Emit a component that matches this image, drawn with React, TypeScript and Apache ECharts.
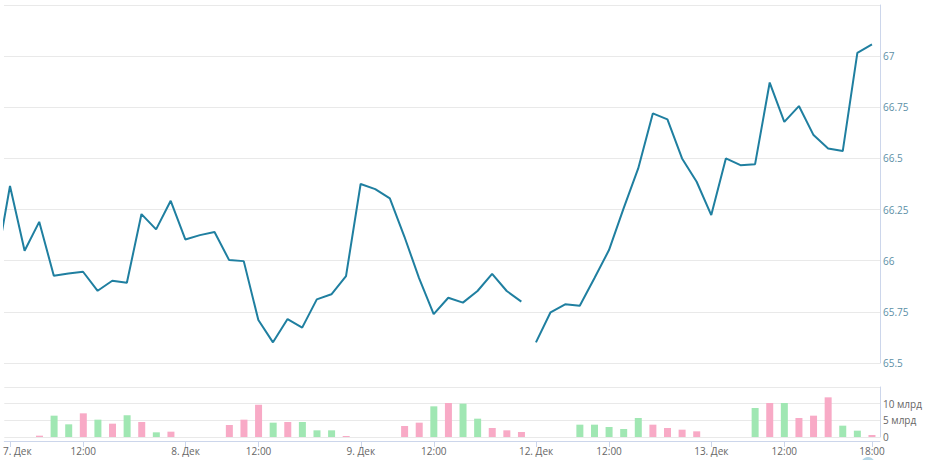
import React, { useEffect, useRef } from 'react';
import * as echarts from 'echarts';

// Hourly slots 07:00–18:00 for trading days 7, 8, 9, 12, 13 Дек (index 0..59)
const tickPositions = [0, 5, 12, 17, 24, 29, 36, 41, 48, 53, 59];
const tickLabels = ['7. Дек', '12:00', '8. Дек', '12:00', '9. Дек', '12:00', '12. Дек', '12:00', '13. Дек', '12:00', '18:00'];

// Last price before the visible window (6 Дек 18:00), partly clipped at the left edge
const previousPrice = 65.96;

// Close prices, one per hourly slot
const prices = [
  66.365, 66.049, 66.19, 65.927, 65.938, 65.946, 65.853, 65.902, 65.892, 66.228, 66.153, 66.293,
  66.104, 66.125, 66.14, 66.003, 65.998, 65.71, 65.601, 65.715, 65.673, 65.811, 65.836, 65.925,
  66.375, 66.35, 66.305, 66.117, 65.915, 65.739, 65.819, 65.795, 65.852, 65.936, 65.852, 65.8,
  65.601, 65.748, 65.787, 65.78, 65.914, 66.052, 66.256, 66.451, 66.72, 66.691, 66.5, 66.386,
  66.223, 66.5, 66.467, 66.472, 66.871, 66.679, 66.756, 66.614, 66.549, 66.536, 67.016, 67.057,
];
// The line is broken between 9 Дек 18:00 (index 35) and 12 Дек 07:00 (index 36)
const gapAfterIndex = 35;

// Volumes in млрд, one per hourly slot
const volumes = [
  0, 0, 0.4, 6.4, 3.8, 7.1, 5.2, 4.0, 6.5, 4.5, 1.4, 1.6,
  0, 0, 0, 3.6, 5.2, 9.7, 4.3, 4.5, 4.5, 2.0, 2.0, 0.3,
  0, 0, 0, 3.3, 4.3, 9.2, 10.2, 10.0, 5.5, 2.7, 2.0, 1.5,
  0, 0, 0, 3.7, 3.7, 3.0, 2.4, 5.7, 3.7, 2.7, 2.2, 1.7,
  0, 0, 0, 8.7, 10.2, 10.2, 5.7, 6.4, 11.9, 3.4, 1.9, 0.6,
];
// u = green bar, d = pink bar
const volumeDirections = [
  'd', 'd', 'd', 'u', 'u', 'd', 'u', 'd', 'u', 'd', 'u', 'd',
  'd', 'd', 'd', 'd', 'd', 'd', 'u', 'd', 'u', 'u', 'u', 'd',
  'd', 'd', 'd', 'd', 'd', 'u', 'd', 'u', 'u', 'd', 'd', 'd',
  'u', 'u', 'u', 'u', 'u', 'u', 'u', 'u', 'd', 'd', 'd', 'd',
  'u', 'u', 'u', 'u', 'd', 'u', 'd', 'd', 'd', 'u', 'u', 'd',
];

const priceTicks = { min: 65.5, max: 67.25, interval: 0.25 };
const volumeTicks = { min: 0, max: 15, interval: 5 };

const LINE_COLOR = '#1f7fa0';
const UP_COLOR = '#a0e7b3';
const DOWN_COLOR = '#f8aac6';
const AXIS_COLOR = '#ccd6eb';
const GRID_COLOR = '#e9e9e9';
const FONT = '"Open Sans", "DejaVu Sans", sans-serif';

function buildOption() {
  const seg1: [number, number][] = [[-1, previousPrice]];
  const seg2: [number, number][] = [];
  prices.forEach((p, i) => {
    if (i <= gapAfterIndex) seg1.push([i, p]);
    else seg2.push([i, p]);
  });
  const bars = volumes.map((v, i) => ({
    value: [i, v],
    itemStyle: { color: volumeDirections[i] === 'u' ? UP_COLOR : DOWN_COLOR },
  }));
  const xMin = -0.41;
  const xMax = 59.55;

  return {
    animation: false,
    backgroundColor: '#ffffff',
    textStyle: { fontFamily: FONT },
    grid: [
      { left: 4, right: 50, top: 5, height: 358 },
      { left: 4, right: 50, top: 387, height: 50 },
    ],
    xAxis: [
      {
        type: 'value',
        gridIndex: 0,
        min: xMin,
        max: xMax,
        axisLine: { show: false, onZero: false },
        axisTick: { show: false },
        axisLabel: { show: false },
        splitLine: { show: false },
      },
      {
        type: 'value',
        gridIndex: 1,
        min: xMin,
        max: xMax,
        offset: 4,
        axisLine: { show: true, onZero: false, lineStyle: { color: AXIS_COLOR, width: 1 } },
        axisTick: { show: true, customValues: tickPositions, length: 6, lineStyle: { color: AXIS_COLOR } },
        axisLabel: {
          show: true,
          customValues: tickPositions,
          margin: 5,
          color: '#666666',
          fontSize: 10,
          fontFamily: FONT,
          formatter: (v: number) => {
            const k = tickPositions.indexOf(Math.round(v));
            if (k < 0) return '';
            return k === 0 ? '{first|' + tickLabels[k] + '}' : tickLabels[k];
          },
          rich: {
            first: { padding: [0, 0, 0, 14], color: '#666666', fontSize: 10, fontFamily: FONT },
          },
        },
        splitLine: { show: false },
      },
    ],
    yAxis: [
      {
        type: 'value',
        gridIndex: 0,
        position: 'right',
        min: priceTicks.min,
        max: priceTicks.max,
        interval: priceTicks.interval,
        axisLine: { show: true, onZero: false, lineStyle: { color: AXIS_COLOR } },
        axisTick: { show: false },
        axisLabel: {
          margin: 3,
          color: '#5c8fa6',
          fontSize: 10,
          fontFamily: FONT,
          showMaxLabel: false,
          formatter: (v: number) => String(+v.toFixed(2)),
        },
        splitLine: { show: true, lineStyle: { color: GRID_COLOR } },
      },
      {
        type: 'value',
        gridIndex: 1,
        position: 'right',
        min: volumeTicks.min,
        max: volumeTicks.max,
        interval: volumeTicks.interval,
        axisLine: { show: true, onZero: false, lineStyle: { color: AXIS_COLOR } },
        axisTick: { show: false },
        axisLabel: {
          margin: 3,
          color: '#666666',
          fontSize: 10,
          fontFamily: FONT,
          showMaxLabel: false,
          formatter: (v: number) => (v === 0 ? '0' : v + ' млрд'),
        },
        splitLine: { show: true, lineStyle: { color: GRID_COLOR } },
      },
    ],
    series: [
      {
        type: 'line',
        xAxisIndex: 0,
        yAxisIndex: 0,
        data: seg1,
        showSymbol: false,
        clip: true,
        lineStyle: { color: LINE_COLOR, width: 2 },
        itemStyle: { color: LINE_COLOR },
      },
      {
        type: 'line',
        xAxisIndex: 0,
        yAxisIndex: 0,
        data: seg2,
        showSymbol: false,
        clip: true,
        lineStyle: { color: LINE_COLOR, width: 2 },
        itemStyle: { color: LINE_COLOR },
      },
      {
        type: 'bar',
        xAxisIndex: 1,
        yAxisIndex: 1,
        data: bars,
        barWidth: 7,
      },
    ],
    graphic: [
      {
        type: 'circle',
        shape: { cx: 868, cy: 464, r: 7 },
        style: { fill: '#b3d6e6' },
        silent: true,
      },
    ],
  };
}

export default function App() {
  const ref = useRef<HTMLDivElement>(null);
  useEffect(() => {
    if (!ref.current) return;
    const chart = echarts.init(ref.current, null, { renderer: 'svg' });
    chart.setOption(buildOption() as any);
    return () => chart.dispose();
  }, []);
  return (
    <div
      ref={ref}
      style={{ position: 'fixed', left: 0, top: 0, width: 930, height: 460, background: '#ffffff' }}
    />
  );
}
